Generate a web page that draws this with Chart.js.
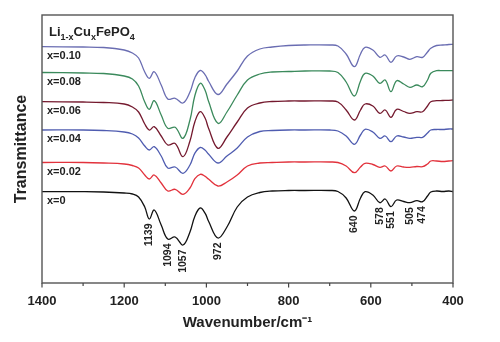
<!DOCTYPE html>
<html>
<head>
<meta charset="utf-8">
<script src="https://cdn.jsdelivr.net/npm/chart.js@4/dist/chart.umd.min.js"></script>
<style>
html,body{margin:0;padding:0;background:#fff;}
#wrap{width:500px;height:342px;position:relative;}
</style>
</head>
<body>
<div id="wrap"><canvas id="c" width="500" height="342"></canvas></div>
<script>
// Wavenumbers (cm-1) sampled along the spectra
const wavenumbers = [1400,1300,1250,1200,1180,1165,1150,1139,1127,1110,1094,1076,1057,1040,1028,1015,1003,995,972,950,925,900,870,840,800,760,700,680,660,640,625,614,595,578,565,551,537,520,505,488,474,462,454,440,425,410,400];

// Transmittance (arbitrary units, offset curves)
const t_x000 = [91.3,91.3,91,90,89,86,76,64,73,58,44,46,38,51,66.8,75,69.6,62,45,56,76,86,90.5,92,92.5,92.5,92.5,91.5,85,72,85,91.3,88,80.3,84,76.3,83,81.5,80.3,82.3,81.3,87,91,92,91.5,92,91.5];
const t_x002 = [120.5,120.5,120,119,117.5,115,108,104,108,100,92,93.7,88.7,95,104.3,108.7,106.6,104,97,101,108,117,120,120.5,121,121,121,120.5,117,110.3,116,119.7,118.5,115.7,117,112,117,116,115.7,116.5,116.3,119,122,122,121.5,122,122.3];
const t_x004 = [153,153,152.5,151,149,145,137,133,136.3,127,115,116,109.7,118,129.8,135.5,132.7,129,120,127,135,146,151.5,152.5,153,153,153,152,147,138.7,148,153.7,151,144.7,147,141.3,147,146,144.7,145.7,145.7,150,153,153.5,153.5,154,154];
const t_x006 = [181.3,181,180.5,179,176,171,159,153,156.3,147,138,139.5,126.3,142,161.3,171.3,164.7,155,134.7,146,161,175,180,181.5,182,182,182,181,173,163,173,179,177,169.7,173,165.7,173.7,171.5,169.7,171.3,171.3,177,181.3,182.3,182.5,182.7,183];
const t_x008 = [210.5,210,209.5,207,204,197,181,173.7,182.3,168,154.7,155.7,144.7,163,187.5,199.7,192.5,182,159.7,171,188,203,209,211,211.5,212,212,210.5,201,187,202,209.7,207,199.7,203,191.3,202.3,199,195.7,198,196.3,203,209.7,212.3,212.3,212.3,212.3];
const t_x010 = [236.3,236,235.5,233,230,225,211,204.7,211.3,198,184,184.7,180,191,205.3,212.5,208.2,202,188.5,199,212,227,234,236,237.5,238,238,237,229,216.3,229,235.7,233,225.7,228,220.7,227,226,223.7,226.3,225.7,231,234.7,237.5,238,238.5,238.7];

const seriesNames = ['x=0.10','x=0.08','x=0.06','x=0.04','x=0.02','x=0'];
const seriesColors = ['#6a6db2','#3b8a5c','#74192e','#4f5cb0','#e2323c','#111111'];
const seriesData = [t_x010,t_x008,t_x006,t_x004,t_x002,t_x000];

// Peak positions annotated on the x=0 spectrum
const peakLabels = ['1139','1094','1057','972','640','578','551','505','474'];

const xTicks = [1400,1200,1000,800,600,400];
const FONT = '"Liberation Sans", Arial, Helvetica, sans-serif';

const datasets = seriesData.map((arr,i)=>({
  label: seriesNames[i],
  data: wavenumbers.map((w,j)=>({x:w,y:arr[j]})),
  borderColor: seriesColors[i],
  borderWidth: 1.3,
  pointRadius: 0,
  fill: false,
  tension: 0.4
}));

const decor = {
  id:'decor',
  afterDatasetsDraw(chart){
    const ctx = chart.ctx, ca = chart.chartArea;
    const xs = chart.scales.x, ys = chart.scales.y;
    ctx.save();
    // frame
    ctx.strokeStyle = '#555';
    ctx.lineWidth = 1.4;
    ctx.strokeRect(ca.left, ca.top, ca.right-ca.left, ca.bottom-ca.top);
    // x ticks (outward)
    ctx.strokeStyle = '#444';
    ctx.lineWidth = 1.2;
    for(let v=400; v<=1400; v+=100){
      const px = xs.getPixelForValue(v);
      const len = (v % 200 === 0) ? 4.5 : 3;
      ctx.beginPath(); ctx.moveTo(px, ca.bottom); ctx.lineTo(px, ca.bottom+len); ctx.stroke();
    }
    // series labels
    ctx.fillStyle = '#222';
    ctx.font = 'bold 11px ' + FONT;
    ctx.textBaseline = 'middle';
    ctx.textAlign = 'left';
    seriesData.forEach((arr,i)=>{
      const py = ys.getPixelForValue(arr[0]);
      ctx.fillText(seriesNames[i], ca.left+5, py+9);
    });
    // compound title with subscripts
    let x = ca.left+7, base = 36.3;
    const parts = [['Li',0],['1-x',1],['Cu',0],['x',1],['FePO',0],['4',1]];
    ctx.textBaseline = 'alphabetic';
    parts.forEach(([s,sub])=>{
      ctx.font = sub ? 'bold 9px '+FONT : 'bold 13px '+FONT;
      ctx.fillText(s, x, base + (sub?3.5:0));
      x += ctx.measureText(s).width;
    });
    // peak labels (rotated)
    ctx.font = 'bold 10.5px ' + FONT;
    ctx.textAlign = 'right';
    ctx.textBaseline = 'middle';
    peakLabels.forEach(lbl=>{
      const w = Number(lbl);
      const j = wavenumbers.indexOf(w);
      const px = xs.getPixelForValue(w);
      const py = ys.getPixelForValue(t_x000[j]) + 4.5;
      ctx.save();
      ctx.translate(px, py);
      ctx.rotate(-Math.PI/2);
      ctx.fillText(lbl, 0, 0);
      ctx.restore();
    });
    ctx.restore();
  }
};

new Chart(document.getElementById('c'), {
  type:'line',
  data:{datasets},
  options:{
    responsive:false,
    animation:false,
    devicePixelRatio:1,
    layout:{padding:{top:15,right:47,left:0,bottom:0}},
    plugins:{legend:{display:false},tooltip:{enabled:false}},
    scales:{
      x:{
        type:'linear', reverse:true, min:400, max:1400,
        afterBuildTicks(s){ s.ticks = xTicks.map(v=>({value:v})); },
        afterFit(s){ s.height = 59; },
        grid:{display:false, drawTicks:false},
        border:{display:false},
        ticks:{padding:11, color:'#222', font:{family:FONT, size:13, weight:'bold'}, maxRotation:0, autoSkip:false,
               callback:(v)=>String(v)},
        title:{display:true, text:'Wavenumber/cm\u207B\u00B9', color:'#222', font:{family:FONT, size:15, weight:'bold'}, padding:{top:0,bottom:10.5}}
      },
      y:{
        type:'linear', min:0, max:268,
        afterFit(s){ s.width = 42; },
        grid:{display:false, drawTicks:false},
        border:{display:false},
        ticks:{display:false},
        title:{display:true, text:'Transmittance', color:'#222', font:{family:FONT, size:16, weight:'bold'}, padding:{top:12,bottom:0}}
      }
    }
  },
  plugins:[decor]
});
</script>
</body>
</html>
